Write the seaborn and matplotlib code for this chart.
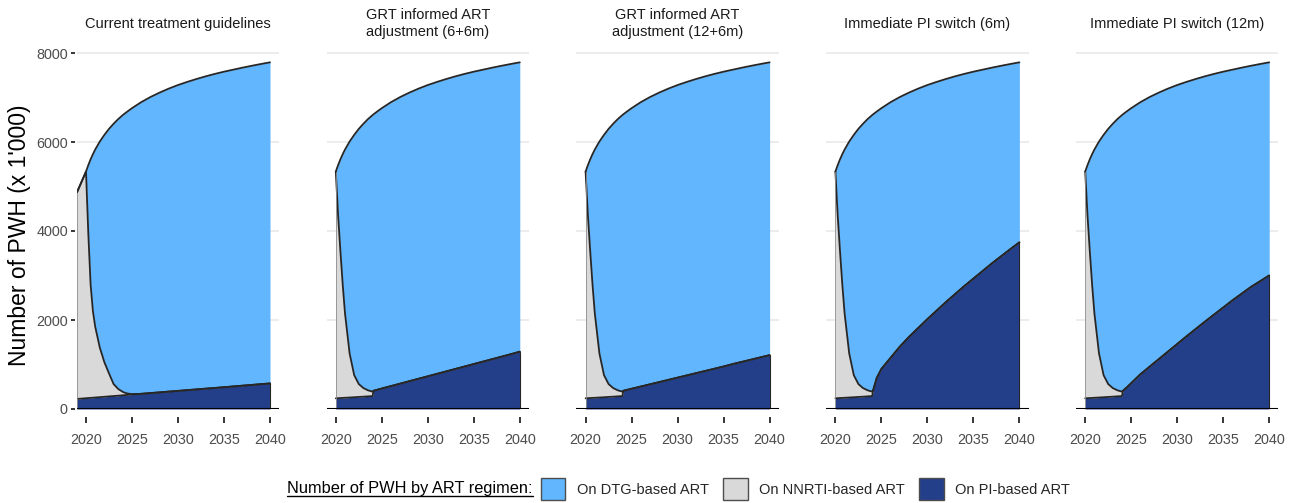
import numpy as np
import pandas as pd
import matplotlib
matplotlib.use("Agg")
import matplotlib.pyplot as plt
from matplotlib.patches import Patch
from matplotlib.lines import Line2D
import seaborn as sns

# ---------------------------------------------------------------- data
# Time points (years) of the projection
years = [2019, 2020, 2020.25, 2020.5, 2020.75, 2021, 2021.5, 2022, 2022.5, 2023,
         2023.5, 2024, 2024.1, 2024.5, 2025, 2026, 2027, 2028, 2029, 2030,
         2031, 2032, 2033, 2034, 2035, 2036, 2037, 2038, 2039, 2040]

# Total number of PWH on ART (x 1'000)
total_pwh = [4860, 5335, 5480, 5610, 5725, 5830, 6010, 6160, 6295, 6410,
             6515, 6605, 6622, 6685, 6760, 6895, 7010, 7110, 7200, 7280,
             7350, 7415, 7475, 7530, 7580, 7625, 7670, 7712, 7752, 7790]

scenarios = ["Current treatment guidelines",
             "GRT informed ART\nadjustment (6+6m)",
             "GRT informed ART\nadjustment (12+6m)",
             "Immediate PI switch (6m)",
             "Immediate PI switch (12m)"]

nan = np.nan

# PWH on NNRTI-based ART (x 1'000)
nnrti_current = [4635, 5093, 3704, 2550, 1946, 1592, 1114, 775, 517, 269,
                 151, 77, 65, 32, 10, 0, 0, 0, 0, 0,
                 0, 0, 0, 0, 0, 0, 0, 0, 0, 0]
nnrti_alt = [nan, 5095, 4107, 3304, 2551, 1898, 992, 496, 289, 193,
             136, 100, 0, 0, 0, 0, 0, 0, 0, 0,
             0, 0, 0, 0, 0, 0, 0, 0, 0, 0]

# PWH on PI-based ART (x 1'000)
pi_current = [225, 242, 246, 250, 254, 258, 266, 275, 283, 291,
              299, 308, 310, 316, 325, 341, 358, 374, 391, 407,
              424, 440, 457, 473, 490, 507, 524, 541, 558, 575]
pi_grt_6 = [nan, 240, 243, 246, 249, 252, 258, 264, 271, 277,
            284, 290, 410, 432, 460, 515, 570, 625, 680, 735,
            790, 845, 900, 955, 1010, 1065, 1120, 1175, 1230, 1288]
pi_grt_12 = [nan, 240, 243, 246, 249, 252, 258, 264, 271, 277,
             284, 290, 410, 430, 455, 505, 555, 605, 655, 705,
             755, 805, 855, 905, 955, 1010, 1060, 1110, 1160, 1210]
pi_switch_6 = [nan, 240, 243, 246, 249, 252, 258, 264, 271, 277,
               284, 290, 420, 700, 900, 1150, 1400, 1620, 1820, 2020,
               2210, 2400, 2580, 2760, 2930, 3100, 3270, 3430, 3590, 3745]
pi_switch_12 = [nan, 240, 243, 246, 249, 252, 258, 264, 271, 277,
                284, 290, 410, 480, 580, 780, 950, 1120, 1290, 1460,
                1630, 1795, 1960, 2120, 2280, 2440, 2590, 2740, 2870, 3000]

pi_series = [pi_current, pi_grt_6, pi_grt_12, pi_switch_6, pi_switch_12]
nnrti_series = [nnrti_current, nnrti_alt, nnrti_alt, nnrti_alt, nnrti_alt]

regimens = ["On DTG-based ART", "On NNRTI-based ART", "On PI-based ART"]
colors = {"On DTG-based ART": "#62B6FE",
          "On NNRTI-based ART": "#D9D9D9",
          "On PI-based ART": "#243F8A"}
outline = "#262626"

y_ticks = [0, 2000, 4000, 6000, 8000]
x_ticks = [2020, 2025, 2030, 2035, 2040]

# ---------------------------------------------------------------- style
sns.set_theme(style="white")
plt.rcParams["font.family"] = ["Liberation Sans", "DejaVu Sans"]

W, H = 1295, 503
fig = plt.figure(figsize=(W / 100, H / 100), dpi=100, facecolor="white")

t = np.array(years, dtype=float)
tot = np.array(total_pwh, dtype=float)

panel_w = 202.4
panel_h = 360.45
for i, name in enumerate(scenarios):
    left = 76.8 + 249.8 * i
    ax = fig.add_axes([left / W, (H - 409) / H, panel_w / W, panel_h / H])
    ax.set_axisbelow(True)

    pi = np.array(pi_series[i], dtype=float)
    nn = np.array(nnrti_series[i], dtype=float)
    dtg = tot - pi - nn
    mask = ~np.isnan(pi)
    tt = t[mask]
    y0 = pi[mask]
    y1 = y0 + nn[mask]
    y2 = y1 + dtg[mask]

    ax.fill_between(tt, 0, y0, color=colors["On PI-based ART"], lw=0, zorder=2)
    ax.fill_between(tt, y0, y1, color=colors["On NNRTI-based ART"], lw=0, zorder=2)
    ax.fill_between(tt, y1, y2, color=colors["On DTG-based ART"], lw=0, zorder=2)

    # upper outlines of the stacked areas
    for upper in (y0, y1, y2):
        sns.lineplot(x=tt, y=upper, ax=ax, color=outline, lw=1.3,
                     estimator=None, sort=False, zorder=3)
    # thin side edges of the areas
    ax.plot([tt[-1], tt[-1]], [0, y0[-1]], color=outline, lw=0.8, zorder=3)
    ax.plot([tt[0], tt[0]], [0, y2[0]], color="#8C8C8C", lw=0.6, zorder=3)

    ax.axhline(0, color="black", lw=1.5, zorder=5)

    ax.set_xlim(2019, 2041)
    ax.set_ylim(0, 8100)
    ax.set_yticks(y_ticks)
    ax.set_xticks(x_ticks)
    ax.yaxis.grid(True, color="#EBEBEB", lw=1.3)
    ax.xaxis.grid(False)
    for s in ax.spines.values():
        s.set_visible(False)
    ax.spines["bottom"].set_position(("outward", 6))
    ax.spines["left"].set_position(("outward", 1.5))
    ax.tick_params(axis="x", bottom=True, length=4, width=1.1, color="black",
                   direction="out", pad=7, labelsize=10.4, labelcolor="#4D4D4D")
    if i == 0:
        ax.tick_params(axis="y", left=True, length=3, width=1.1, color="black",
                       direction="out", pad=2, labelsize=10.4, labelcolor="#4D4D4D")
    else:
        ax.tick_params(axis="y", left=False, labelleft=False)
    ax.set_xlabel("")
    ax.set_ylabel("")

    ax.text(0.5, 1 + 25 / panel_h, name, transform=ax.transAxes,
            ha="center", va="center", fontsize=10.5, color="#1A1A1A",
            linespacing=1.2)

fig.text(20 / W, 1 - 235.5 / H, "Number of PWH (x 1'000)", rotation=90,
         ha="center", va="center", fontsize=16.5, color="black")

# ---------------------------------------------------------------- legend
leg_y = 14 / H
title = fig.text(287 / W, leg_y, "Number of PWH by ART regimen:", ha="left",
                 va="center", fontsize=11.8, color="black")
fig.canvas.draw()
renderer = fig.canvas.get_renderer()
bb = title.get_window_extent(renderer).transformed(fig.transFigure.inverted())
fig.add_artist(Line2D([bb.x0, bb.x1], [bb.y0 + 1 / H, bb.y0 + 1 / H],
                      transform=fig.transFigure, color="black", lw=1.0))

handles = [Patch(facecolor=colors[r], edgecolor="#4D4D4D", lw=1.0) for r in regimens]
fig.legend(handles, regimens, loc="center left",
           bbox_to_anchor=(bb.x1 + 8 / W, leg_y), ncol=3, frameon=False,
           fontsize=10.5, handlelength=1.7, handleheight=1.85,
           handletextpad=0.8, columnspacing=0.95, borderpad=0,
           borderaxespad=0)

fig.savefig("out.png", dpi=100, facecolor="white")
